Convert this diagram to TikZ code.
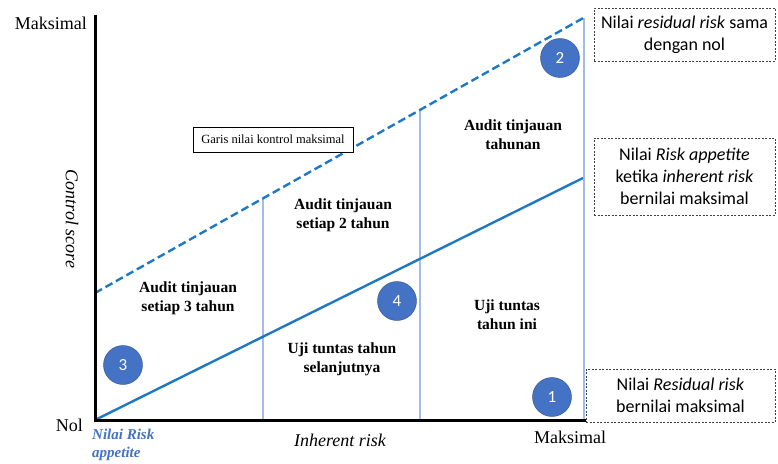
\documentclass[tikz,border=0pt]{standalone}
\usepackage{fontspec}
\setmainfont{Liberation Serif}
\newfontfamily\calibri{Carlito}
\usetikzlibrary{positioning,calc}
\definecolor{lineblue}{HTML}{1F78C4}
\definecolor{circblue}{HTML}{4472C4}
\definecolor{softline}{HTML}{A4BCE6}
\definecolor{textblue}{HTML}{4472C4}
\begin{document}
\begin{tikzpicture}[
  x=1pt,y=-1pt,
  every node/.style={font=\fontsize{18}{20}\selectfont,inner sep=0pt},
  lbl/.style={font=\bfseries\fontsize{15.5}{19}\selectfont,align=center},
  num/.style={circle,fill=circblue,draw=circblue!70!black,text=white,minimum size=39pt,font=\calibri\fontsize{17}{18}\selectfont},
  note/.style={draw=black!75,dash pattern=on 2pt off 1.5pt,align=center,font=\calibri\fontsize{18}{22}\selectfont}
]
\useasboundingbox (0,0) rectangle (778,463);
% axes and lines
\coordinate (org) at (95,420);
\coordinate (ytop) at (95,15);
\coordinate (xend) at (586,420);
\coordinate (ra) at (583,178);
\coordinate (mk0) at (95,293);
\coordinate (mk1) at (585,17);
\coordinate (v1b) at (263,420);
\coordinate (v1t) at (263,199);
\coordinate (v2b) at (420,420);
\coordinate (v2t) at (420,111);
\coordinate (v3b) at (584,420);
\coordinate (v3t) at (584,18);
\draw[softline,line width=1.3pt] (v1b) -- (v1t);
\draw[softline,line width=1.3pt] (v2b) -- (v2t);
\draw[softline,line width=1.3pt] (v3b) -- (v3t);
\draw[lineblue,line width=2.4pt] (org) -- (ra);
\draw[lineblue,line width=2.4pt,dash pattern=on 8pt off 4pt] (mk0) -- (mk1);
\draw[line width=3pt] (ytop) -- (org) -- (xend);

\node[anchor=east] (ymax) at (87,23) {Maksimal};
\node[anchor=east] (ynol) at (83,425) {Nol};
\node (xmax) at (570,437) {Maksimal};
\node (xlab) at (340,440) {\itshape Inherent risk};
\node[rotate=-90] (ylab) at (72,219) {\itshape Control score};
\node[anchor=north west,align=left,text=textblue,font=\bfseries\itshape\fontsize{15}{18}\selectfont] (rapp) at (92,429) {Nilai Risk\\appetite};

\node[draw,fill=white,line width=0.8pt,font=\fontsize{12.5}{14}\selectfont,minimum width=160pt,minimum height=25pt] (garis) at (273,139.5) {Garis nilai kontrol maksimal};

\node[lbl] (au3) at (188,298) {Audit tinjauan\\setiap 3 tahun};
\node[lbl] (au2) at (343,215) {Audit tinjauan\\setiap 2 tahun};
\node[lbl] (au1) at (513,135) {Audit tinjauan\\tahunan};
\node[lbl] (uj2) at (342,359) {Uji tuntas tahun\\selanjutnya};
\node[lbl] (uj1) at (507,315) {Uji tuntas\\tahun ini};

\node[num] (n1) at (552,397) {1};
\node[num] (n2) at (560,58) {2};
\node[num] (n3) at (123,365) {3};
\node[num] (n4) at (397,301) {4};

\node[note,minimum width=181pt,minimum height=53pt] (res0) at (684.5,34.5) {Nilai \textit{residual risk} sama\\dengan nol};
\node[note,minimum width=181pt,minimum height=77pt] (appmax) at (684.5,176.5) {Nilai \textit{Risk appetite}\\ketika \textit{inherent risk}\\bernilai maksimal};
\node[note,minimum width=189pt,minimum height=53pt] (resmax) at (680.5,395.5) {Nilai \textit{Residual risk}\\bernilai maksimal};
\end{tikzpicture}
\end{document}
